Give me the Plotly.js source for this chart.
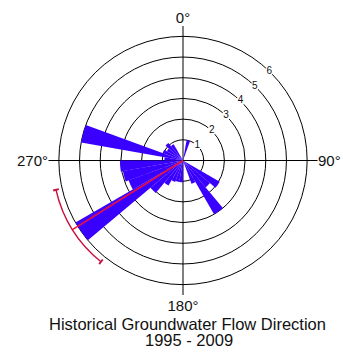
<!DOCTYPE html>
<html>
<head>
<meta charset="utf-8">
<script src="https://cdn.plot.ly/plotly-3.0.1.min.js"></script>
<style>html,body{margin:0;padding:0;background:#fff;}#chart{width:343px;height:364px;}</style>
</head>
<body>
<div id="chart"></div>
<script>
// Flow direction bins (degrees, bin centre) and frequency (radial value)
const binCenters = [15, 125, 135, 145, 155, 185, 195, 205, 215, 225, 235, 245, 255, 265, 275, 285, 295, 305, 315, 325];
const binValues  = [1.0, 2.05, 1.7, 3.0, 1.2, 1.05, 1.05, 1.1, 1.4, 2.05, 6.0, 2.8, 2.95, 3.05, 0.9, 5.0, 1.05, 0.9, 1.1, 0.9];
const binWidth = 10;

// Mean flow direction and its range
const meanDirection = 238;
const rangeStart = 219;
const rangeEnd = 257;
const meanRadius = 6.3;

const radialTicks = [1, 2, 3, 4, 5, 6];
const radialTickText = ['1', '2', '3', '4', '5', '6'];
const radialLabelAngle = 44;
const angularTicks = [0, 90, 180, 270];
const angularTickText = ['0°', '90°', '180°', '270°'];

const titleLine1 = 'Historical Groundwater Flow Direction';
const titleLine2 = '1995 - 2009';

const traces = [
  {
    type: 'barpolar',
    theta: binCenters,
    r: binValues,
    width: binCenters.map(() => binWidth),
    marker: {color: '#3a00ff', line: {width: 0}},
    hoverinfo: 'none'
  },
  {
    type: 'scatterpolar',
    mode: 'lines',
    theta: [meanDirection, meanDirection],
    r: [0, meanRadius],
    line: {color: '#f0103c', width: 1.6},
    hoverinfo: 'none'
  },
  {
    type: 'barpolar',
    theta: [(rangeStart + rangeEnd) / 2],
    base: [meanRadius - 0.035],
    r: [0.07],
    width: [rangeEnd - rangeStart],
    marker: {color: '#c8103e', line: {width: 0}},
    hoverinfo: 'none'
  },
  {
    type: 'barpolar',
    theta: [rangeStart, rangeEnd],
    base: [meanRadius - 0.14, meanRadius - 0.14],
    r: [0.28, 0.28],
    width: [0.8, 0.8],
    marker: {color: '#c8103e', line: {width: 0}},
    hoverinfo: 'none'
  },
  {
    // radial tick labels sitting on the rings (rings broken behind them)
    type: 'scatterpolar',
    mode: 'markers+text',
    r: radialTicks,
    theta: radialTicks.map(() => radialLabelAngle),
    text: radialTickText,
    textposition: 'middle center',
    textfont: {size: 10, color: '#111', family: 'Liberation Sans, Arial, sans-serif'},
    marker: {size: 9, color: '#fff', line: {width: 0}},
    cliponaxis: false,
    hoverinfo: 'none'
  }
];

const layout = {
  width: 343,
  height: 364,
  margin: {l: 0, r: 0, t: 0, b: 0},
  paper_bgcolor: '#fff',
  showlegend: false,
  barmode: 'overlay',
  font: {family: 'Liberation Sans, Arial, sans-serif', color: '#111'},
  polar: {
    domain: {x: [48.5 / 343, 317.5 / 343], y: [1 - 295 / 364, 1 - 26 / 364]},
    bgcolor: 'rgba(0,0,0,0)',
    hole: 0,
    angularaxis: {
      rotation: 90,
      direction: 'clockwise',
      tickvals: angularTicks,
      ticktext: angularTickText,
      showline: false,
      ticks: '',
      showgrid: true,
      gridcolor: '#000',
      gridwidth: 1,
      tickfont: {size: 15, color: '#111'}
    },
    radialaxis: {
      range: [0, 6.5],
      tickvals: radialTicks,
      showticklabels: false,
      showline: false,
      ticks: '',
      angle: 45,
      gridcolor: '#000',
      gridwidth: 1
    }
  },
  annotations: [
    {text: titleLine1, xref: 'paper', yref: 'paper', x: 187 / 343, y: 1 - 324 / 364,
     xanchor: 'center', yanchor: 'middle', showarrow: false,
     font: {size: 16.5, color: '#111'}},
    {text: titleLine2, xref: 'paper', yref: 'paper', x: 189 / 343, y: 1 - 340 / 364,
     xanchor: 'center', yanchor: 'middle', showarrow: false,
     font: {size: 16.5, color: '#111'}}
  ]
};

Plotly.newPlot('chart', traces, layout, {displayModeBar: false, staticPlot: true});
</script>
</body>
</html>
